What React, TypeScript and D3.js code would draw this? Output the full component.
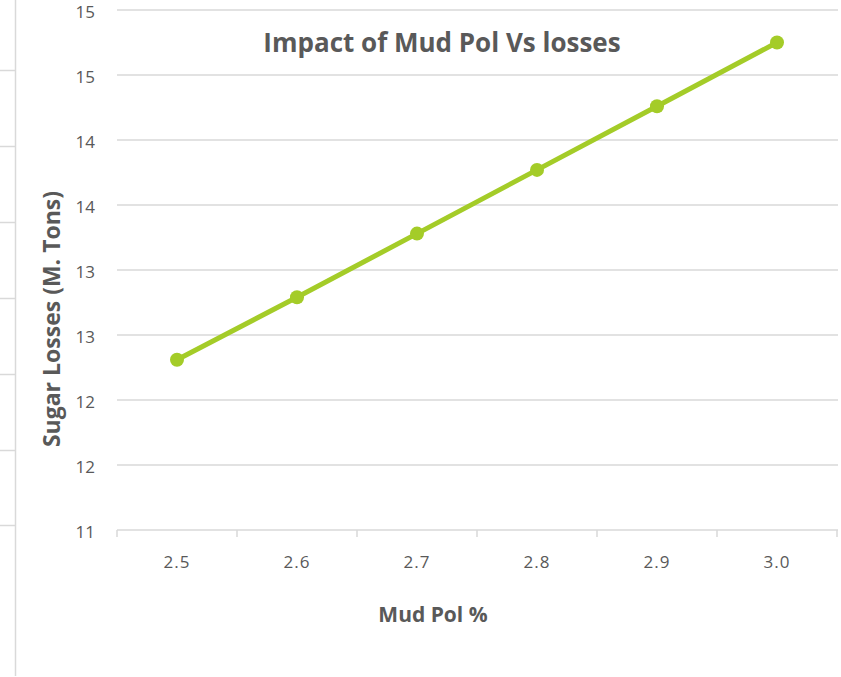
import React from "react";
import * as d3 from "d3";

const categories = ["2.5", "2.6", "2.7", "2.8", "2.9", "3.0"];
const losses = [12.31, 12.79, 13.28, 13.77, 14.26, 14.75];
const yTicks = [11, 11.5, 12, 12.5, 13, 13.5, 14, 14.5, 15];
const leftStubs = [70, 146, 222, 298, 374, 450, 525];

const W = 841;
const H = 677;
const plot = { left: 117, right: 837, top: 10, bottom: 530 };
const grey = "#595959";
const gridColor = "#d9d9d9";
const lineColor = "#a4cc28";
const font = "'Open Sans', sans-serif";

export default function App() {
  const x = d3.scaleBand<string>().domain(categories).range([plot.left, plot.right]);
  const y = d3.scaleLinear().domain([11, 15]).range([plot.bottom, plot.top]);
  const line = d3
    .line<number>()
    .x((_, i) => (x(categories[i]) as number) + x.bandwidth() / 2)
    .y((d) => y(d));

  const tickXs = categories.map((c) => x(c) as number).concat([plot.right]);

  return (
    <svg
      width={W}
      height={H}
      style={{ position: "absolute", left: 0, top: 0, background: "#fff" }}
      fontFamily={font}
    >
      {/* leftover frame on the left */}
      <line x1={15.5} x2={15.5} y1={0} y2={676} stroke={gridColor} strokeWidth={1.5} />
      {leftStubs.map((v) => (
        <line key={v} x1={0} x2={15} y1={v + 0.5} y2={v + 0.5} stroke={gridColor} strokeWidth={1.5} />
      ))}

      {/* gridlines */}
      {yTicks.slice(1).map((t) => (
        <line key={t} x1={plot.left} x2={plot.right + 1} y1={y(t)} y2={y(t)} stroke={gridColor} strokeWidth={1.5} />
      ))}
      {/* x axis */}
      <line x1={plot.left} x2={plot.right + 1} y1={y(11)} y2={y(11)} stroke={gridColor} strokeWidth={1.5} />
      {tickXs.map((tx, i) => (
        <line key={i} x1={tx} x2={tx} y1={y(11)} y2={y(11) + 7} stroke={gridColor} strokeWidth={1.5} />
      ))}

      {/* y tick labels */}
      {yTicks.map((t) => (
        <text key={t} x={95} y={y(t) + 2} dy="0.35em" textAnchor="end" fontSize={17} fill={grey}>
          {t.toFixed(0)}
        </text>
      ))}
      {/* x tick labels */}
      {categories.map((c) => (
        <text
          key={c}
          x={(x(c) as number) + x.bandwidth() / 2}
          y={562}
          dy="0.35em"
          textAnchor="middle"
          fontSize={17}
          letterSpacing={1}
          fill={grey}
        >
          {c}
        </text>
      ))}

      {/* series */}
      <path d={line(losses) as string} fill="none" stroke={lineColor} strokeWidth={5} strokeLinejoin="round" />
      {losses.map((v, i) => (
        <circle
          key={i}
          cx={(x(categories[i]) as number) + x.bandwidth() / 2}
          cy={y(v)}
          r={7}
          fill={lineColor}
        />
      ))}

      {/* titles */}
      <text x={442} y={43} dy="0.35em" textAnchor="middle" fontSize={26} fontWeight="bold" fill={grey}>
        Impact of Mud Pol Vs losses
      </text>
      <text x={433} y={615} dy="0.35em" textAnchor="middle" fontSize={21} fontWeight="bold" fill={grey}>
        Mud Pol %
      </text>
      <text
        transform={`translate(52,319) rotate(-90)`}
        dy="0.35em"
        textAnchor="middle"
        fontSize={23}
        fontWeight="bold"
        fill={grey}
      >
        Sugar Losses (M. Tons)
      </text>
    </svg>
  );
}
